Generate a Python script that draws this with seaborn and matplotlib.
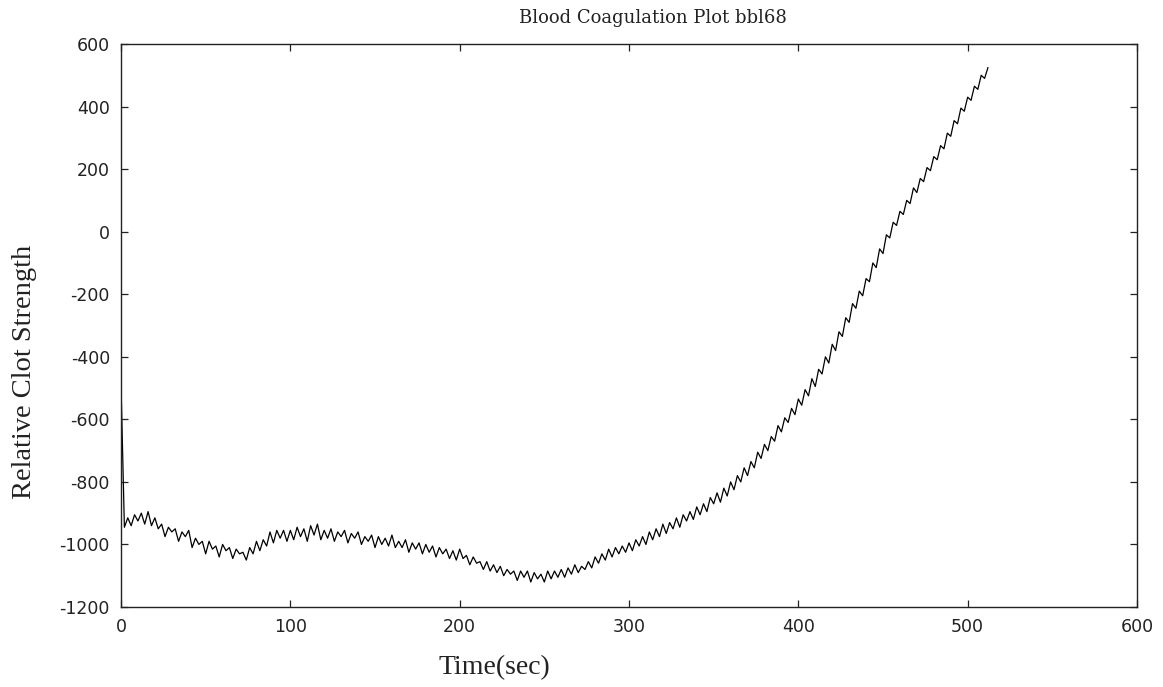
import numpy as np
import pandas as pd
import matplotlib
matplotlib.use("Agg")
import matplotlib.pyplot as plt
import seaborn as sns

# ---- data ----
time_sec = list(range(0, 514, 2))
clot_strength = [
    -485, -945, -915, -940, -905, -925, -900, -935, -895, -940,
    -915, -950, -935, -975, -945, -960, -950, -990, -960, -975,
    -955, -1010, -980, -1000, -990, -1030, -990, -1015, -1005, -1040,
    -1000, -1020, -1010, -1045, -1015, -1030, -1025, -1050, -1010, -1030,
    -990, -1020, -985, -1005, -960, -995, -955, -980, -955, -990,
    -955, -985, -945, -975, -950, -990, -940, -970, -935, -985,
    -955, -980, -950, -990, -960, -975, -955, -995, -965, -980,
    -960, -1000, -975, -990, -970, -1010, -975, -1000, -980, -1005,
    -970, -1010, -990, -1010, -985, -1025, -995, -1015, -995, -1030,
    -1000, -1025, -1005, -1040, -1010, -1030, -1015, -1045, -1020, -1050,
    -1015, -1045, -1035, -1065, -1040, -1060, -1055, -1080, -1055, -1085,
    -1065, -1090, -1070, -1100, -1080, -1095, -1085, -1115, -1085, -1105,
    -1085, -1120, -1090, -1110, -1095, -1120, -1085, -1110, -1085, -1105,
    -1080, -1105, -1075, -1095, -1065, -1090, -1070, -1080, -1055, -1075,
    -1040, -1060, -1030, -1050, -1015, -1040, -1010, -1030, -1005, -1025,
    -995, -1020, -985, -1005, -975, -1000, -960, -985, -950, -975,
    -935, -965, -930, -950, -915, -945, -905, -925, -895, -920,
    -880, -905, -870, -895, -850, -870, -835, -865, -820, -845,
    -800, -825, -780, -800, -755, -780, -735, -755, -705, -725,
    -680, -700, -655, -670, -620, -640, -595, -610, -565, -585,
    -535, -555, -505, -525, -470, -495, -440, -455, -400, -420,
    -360, -380, -320, -335, -275, -290, -230, -245, -190, -205,
    -150, -160, -100, -115, -55, -70, -10, -20, 30, 20,
    65, 55, 100, 90, 140, 125, 170, 160, 205, 195,
    240, 230, 275, 265, 315, 305, 355, 345, 395, 385,
    430, 420, 465, 455, 500, 490, 525,
]
x_ticks = [0, 100, 200, 300, 400, 500, 600]
y_ticks = [-1200, -1000, -800, -600, -400, -200, 0, 200, 400, 600]
title_text = "Blood Coagulation Plot bbl68"
x_label = "Time(sec)"
y_label = "Relative Clot Strength"

df = pd.DataFrame({"Time(sec)": time_sec, "Strength": clot_strength})

sns.set_style("ticks")
plt.rcParams["font.family"] = ["DejaVu Sans"]
plt.rcParams["axes.unicode_minus"] = False

fig = plt.figure(figsize=(11.63, 6.87), dpi=100)
ax = fig.add_axes([121 / 1163, 1 - 607 / 687, (1137 - 121) / 1163, (607 - 44) / 687])

sns.lineplot(data=df, x="Time(sec)", y="Strength", ax=ax, color="black",
             linewidth=0.9, estimator=None, sort=False)

ax.set_xlim(0, 600)
ax.set_ylim(-1200, 600)
ax.set_xticks(x_ticks)
ax.set_yticks(y_ticks)
ax.set_xlabel("")
ax.set_ylabel("")
for s in ax.spines.values():
    s.set_visible(True)
    s.set_color("#222222")
    s.set_linewidth(1.0)
ax.tick_params(direction="in", length=5, width=0.9, top=True, right=True,
               labelsize=12.5, colors="#222222", pad=8)

fig.text(653 / 1163, 1 - 18 / 687, title_text, ha="center", va="center",
         family="DejaVu Serif", fontsize=13, color="#222222")
fig.text(494 / 1163, 1 - 668 / 687, x_label, ha="center", va="center",
         family="Liberation Serif", fontsize=20, color="#222222")
fig.text(25 / 1163, 1 - 372 / 687, y_label, ha="center", va="center",
         rotation=90, family="Liberation Serif", fontsize=20.5, color="#222222")

fig.savefig("out.png", dpi=100)
